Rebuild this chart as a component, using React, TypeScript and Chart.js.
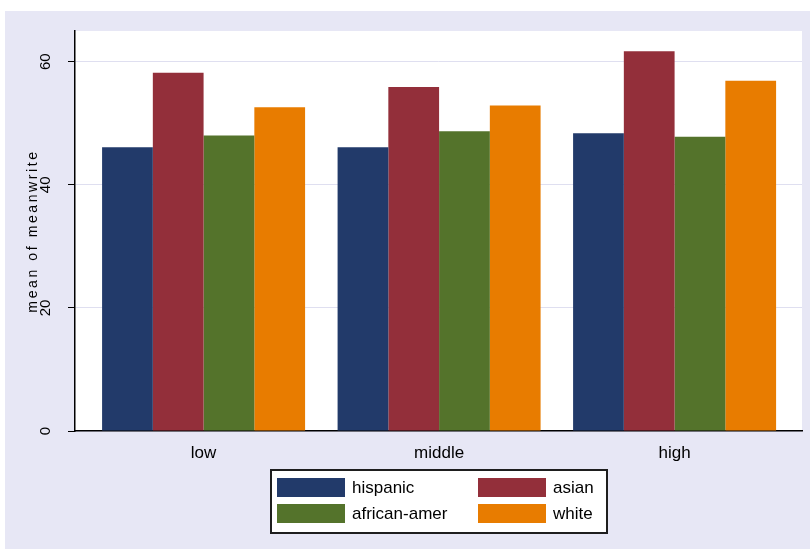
import { useEffect, useRef } from 'react';
import { Chart, registerables } from 'chart.js';

Chart.register(...registerables);

// ---- data ----
const categories = ['low', 'middle', 'high'];
const seriesNames = ['hispanic', 'asian', 'african-amer', 'white'];
const hispanic = [46.1, 46.1, 48.4];
const asian = [58.2, 55.9, 61.7];
const africanAmer = [48.0, 48.7, 47.8];
const white = [52.6, 52.9, 56.9];
const yTicks = [0, 20, 40, 60];
const yTitle = 'mean of meanwrite';

const seriesValues = [hispanic, asian, africanAmer, white];
const seriesColors = ['#223a6a', '#932f3a', '#54732b', '#e87c00'];

const FONT = '"Liberation Sans", Arial, sans-serif';

const backgroundPlugin = {
  id: 'stataBackground',
  beforeDraw(chart: any) {
    const { ctx, width, height, chartArea } = chart;
    ctx.save();
    ctx.fillStyle = '#ffffff';
    ctx.fillRect(0, 0, width, height);
    ctx.fillStyle = '#e7e7f5';
    ctx.fillRect(5, 11, width - 5, height - 11);
    ctx.fillStyle = '#ffffff';
    ctx.fillRect(chartArea.left, chartArea.top, chartArea.right - chartArea.left, chartArea.bottom - chartArea.top);
    ctx.restore();
  },
};

const legendPlugin = {
  id: 'stataLegend',
  afterDraw(chart: any, _args: any, opts: any) {
    const ctx = chart.ctx;
    ctx.save();
    const { x, y, w, h } = opts.box;
    ctx.fillStyle = '#ffffff';
    ctx.fillRect(x, y, w, h);
    ctx.lineWidth = 2;
    ctx.strokeStyle = '#1e1e1e';
    ctx.strokeRect(x, y, w, h);
    ctx.font = `17px ${FONT}`;
    ctx.textBaseline = 'middle';
    ctx.textAlign = 'left';
    chart.data.datasets.forEach((ds: any, i: number) => {
      const col = i % 2;
      const row = Math.floor(i / 2);
      const sx = opts.swatchX[col];
      const sy = opts.rowY[row];
      ctx.fillStyle = ds.backgroundColor;
      ctx.fillRect(sx, sy, opts.swatchW, opts.swatchH);
      ctx.fillStyle = '#000000';
      ctx.fillText(ds.label, opts.textX[col], sy + opts.swatchH / 2 + 0.5);
    });
    ctx.restore();
  },
};

export default function App() {
  const canvasRef = useRef<HTMLCanvasElement | null>(null);

  useEffect(() => {
    document.body.style.margin = '0';
    const canvas = canvasRef.current;
    if (!canvas) return;

    const chart = new Chart(canvas, {
      type: 'bar',
      data: {
        datasets: seriesNames.map((name, si) => ({
          label: name,
          data: seriesValues[si].map((v, ci) => ({ x: ci, y: v })),
          backgroundColor: seriesColors[si],
          borderWidth: 0,
          categoryPercentage: 0.862,
          barPercentage: 1,
        })),
      },
      options: {
        animation: false,
        responsive: false,
        maintainAspectRatio: false,
        devicePixelRatio: 1,
        layout: { padding: { left: 0, top: 31, right: 8, bottom: 0 } },
        plugins: {
          legend: { display: false },
          tooltip: { enabled: false },
          stataLegend: {
            box: { x: 271, y: 470, w: 336, h: 63 },
            swatchX: [277, 478],
            rowY: [478, 504],
            swatchW: 68,
            swatchH: 19,
            textX: [352, 553],
          },
        } as any,
        scales: {
          x: {
            type: 'linear',
            offset: false,
            min: -0.546,
            max: 2.541,
            grid: { display: false, drawTicks: false, offset: false },
            border: { display: true, color: '#000000', width: 1.5 },
            ticks: {
              color: '#000000',
              font: { family: FONT, size: 17 },
              padding: 12,
              maxRotation: 0,
              minRotation: 0,
              callback: (v: any) => categories[Math.round(Number(v))] ?? '',
            },
            afterBuildTicks: (s: any) => {
              s.ticks = categories.map((_, i) => ({ value: i }));
            },
            afterFit: (s: any) => {
              s.height = 118;
            },
          },
          y: {
            type: 'linear',
            min: 0,
            max: 65,
            grid: { color: '#dfdff0', lineWidth: 1, tickColor: '#000000', tickLength: 7, tickWidth: 1 },
            border: { display: true, color: '#000000', width: 1.5 },
            ticks: {
              color: '#000000',
              font: { family: FONT, size: 15 },
              minRotation: 90,
              maxRotation: 90,
              crossAlign: 'center',
              padding: 14,
            },
            afterBuildTicks: (s: any) => {
              s.ticks = yTicks.map((v) => ({ value: v }));
            },
            afterFit: (s: any) => {
              s.width = 75;
              if (!s.__spaced) {
                s.__spaced = true;
                const orig = s.drawTitle;
                s.drawTitle = function (...a: any[]) {
                  const c = this.ctx;
                  const prev = c.letterSpacing;
                  c.letterSpacing = '2.6px';
                  orig.apply(this, a);
                  c.letterSpacing = prev || '0px';
                };
              }
            },
            title: {
              display: true,
              text: yTitle,
              color: '#000000',
              font: { family: FONT, size: 14 },
              padding: { top: 25, bottom: 0 },
            },
          },
        },
      } as any,
      plugins: [backgroundPlugin, legendPlugin],
    });

    return () => chart.destroy();
  }, []);

  return <canvas ref={canvasRef} width={810} height={549} style={{ display: 'block', width: 810, height: 549 }} />;
}
